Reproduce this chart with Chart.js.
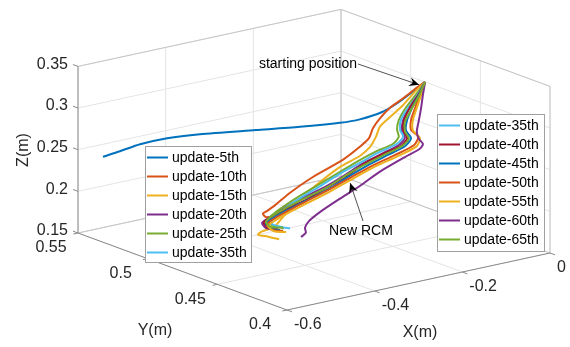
<!DOCTYPE html>
<html>
<head>
<meta charset="utf-8">
<script src="https://cdn.jsdelivr.net/npm/chart.js@4.4.0/dist/chart.umd.min.js"></script>
<style>
    html, body { margin: 0; padding: 0; background: #fff; }
    #wrap { width: 570px; height: 347px; }
</style>
</head>
<body>
<div id="wrap"><canvas id="trajChart" width="570" height="347"></canvas></div>
<script>
// axis ticks (metres)
let xTicks = [-0.6, -0.4, -0.2, 0];
let yTicks = [0.4, 0.45, 0.5, 0.55];
let zTicks = [0.15, 0.2, 0.25, 0.3, 0.35];

let labels = ["update-5th", "update-10th", "update-15th", "update-20th", "update-25th", "update-35th",
              "update-40th", "update-45th", "update-50th", "update-55th", "update-60th", "update-65th"];
let colors = ["#0072BD", "#D95319", "#EDB120", "#7E2F8E", "#77AC30", "#4DBEEE",
              "#A2142F", "#0072BD", "#D95319", "#EDB120", "#7E2F8E", "#77AC30"];

// trajectories, [X, Y, Z] in metres
let upd5 = [[-0.126,0.45,0.339],[-0.156,0.45,0.330],[-0.188,0.45,0.321],[-0.224,0.45,0.314],[-0.275,0.45,0.311],
            [-0.320,0.45,0.312],[-0.348,0.47,0.298],[-0.385,0.49,0.286],[-0.449,0.51,0.276],[-0.492,0.52,0.270],
            [-0.522,0.53,0.260],[-0.536,0.54,0.247],[-0.543,0.55,0.235]];
let upd10 = [[-0.126,0.45,0.339],[-0.149,0.45,0.333],[-0.176,0.45,0.325],[-0.206,0.45,0.317],[-0.229,0.45,0.307],
             [-0.245,0.45,0.297],[-0.254,0.45,0.286],[-0.275,0.45,0.278],[-0.313,0.45,0.267],[-0.382,0.45,0.254],
             [-0.434,0.45,0.241],[-0.468,0.45,0.230],[-0.487,0.45,0.225],[-0.496,0.45,0.223],[-0.489,0.45,0.218],
             [-0.468,0.45,0.217]];
let upd15 = [[-0.126,0.45,0.339],[-0.151,0.45,0.329],[-0.176,0.45,0.317],[-0.206,0.45,0.306],[-0.229,0.45,0.297],
             [-0.238,0.45,0.286],[-0.252,0.45,0.275],[-0.275,0.45,0.267],[-0.320,0.45,0.259],[-0.382,0.45,0.241],
             [-0.418,0.45,0.228],[-0.448,0.45,0.215],[-0.471,0.45,0.204],[-0.498,0.45,0.202],[-0.507,0.45,0.199],
             [-0.484,0.45,0.194],[-0.459,0.45,0.188]];
let upd20 = [[-0.126,0.45,0.339],[-0.145,0.45,0.325],[-0.163,0.45,0.312],[-0.176,0.45,0.299],[-0.179,0.45,0.287],
             [-0.172,0.45,0.277],[-0.186,0.45,0.270],[-0.224,0.45,0.264],[-0.270,0.45,0.257],[-0.309,0.45,0.248],
             [-0.354,0.45,0.239],[-0.411,0.45,0.231],[-0.455,0.45,0.223],[-0.484,0.45,0.216],[-0.498,0.45,0.212],
             [-0.489,0.45,0.205],[-0.466,0.45,0.201]];
let upd25 = [[-0.126,0.45,0.339],[-0.147,0.45,0.326],[-0.170,0.45,0.313],[-0.186,0.45,0.300],[-0.190,0.45,0.289],
             [-0.186,0.45,0.280],[-0.199,0.45,0.273],[-0.240,0.45,0.268],[-0.281,0.45,0.261],[-0.320,0.45,0.253],
             [-0.366,0.45,0.244],[-0.411,0.45,0.235],[-0.450,0.45,0.226],[-0.475,0.45,0.219],[-0.484,0.45,0.213],
             [-0.473,0.45,0.206],[-0.448,0.45,0.200]];
let upd35 = [[-0.126,0.45,0.339],[-0.145,0.45,0.324],[-0.165,0.45,0.312],[-0.181,0.45,0.300],[-0.183,0.45,0.288],
             [-0.176,0.45,0.279],[-0.190,0.45,0.272],[-0.234,0.45,0.266],[-0.279,0.45,0.258],[-0.320,0.45,0.251],
             [-0.366,0.45,0.241],[-0.411,0.45,0.232],[-0.448,0.45,0.223],[-0.473,0.45,0.215],[-0.475,0.45,0.208],
             [-0.457,0.45,0.203],[-0.434,0.45,0.198]];
let upd40 = [[-0.126,0.45,0.339],[-0.142,0.45,0.325],[-0.161,0.45,0.312],[-0.174,0.45,0.299],[-0.176,0.45,0.287],
             [-0.167,0.45,0.276],[-0.179,0.45,0.269],[-0.218,0.45,0.264],[-0.263,0.45,0.257],[-0.297,0.45,0.248],
             [-0.343,0.45,0.239],[-0.400,0.45,0.228],[-0.446,0.45,0.222],[-0.480,0.45,0.216],[-0.494,0.45,0.212],
             [-0.484,0.45,0.204],[-0.462,0.45,0.201]];
let upd45 = [[-0.126,0.45,0.339],[-0.140,0.45,0.325],[-0.156,0.45,0.311],[-0.167,0.45,0.298],[-0.170,0.45,0.286],
             [-0.158,0.45,0.275],[-0.172,0.45,0.267],[-0.211,0.45,0.261],[-0.256,0.45,0.254],[-0.297,0.45,0.246],
             [-0.343,0.45,0.236],[-0.400,0.45,0.227],[-0.446,0.45,0.220],[-0.478,0.45,0.214],[-0.489,0.45,0.210],
             [-0.480,0.45,0.203],[-0.457,0.45,0.199]];
let upd50 = [[-0.126,0.45,0.339],[-0.138,0.45,0.325],[-0.149,0.45,0.310],[-0.158,0.45,0.297],[-0.158,0.45,0.285],
             [-0.142,0.45,0.275],[-0.151,0.45,0.266],[-0.195,0.45,0.259],[-0.247,0.45,0.252],[-0.293,0.45,0.244],
             [-0.343,0.45,0.235],[-0.400,0.45,0.226],[-0.443,0.45,0.219],[-0.475,0.45,0.213],[-0.487,0.45,0.208],
             [-0.475,0.45,0.201],[-0.450,0.45,0.197]];
let upd55 = [[-0.126,0.45,0.339],[-0.135,0.45,0.324],[-0.145,0.45,0.310],[-0.154,0.45,0.296],[-0.154,0.45,0.284],
             [-0.138,0.45,0.273],[-0.145,0.45,0.264],[-0.188,0.45,0.257],[-0.243,0.45,0.250],[-0.288,0.45,0.242],
             [-0.338,0.45,0.233],[-0.395,0.45,0.224],[-0.439,0.45,0.217],[-0.471,0.45,0.211],[-0.484,0.45,0.207],
             [-0.471,0.45,0.199],[-0.443,0.45,0.195]];
let upd60 = [[-0.126,0.45,0.339],[-0.131,0.45,0.324],[-0.135,0.45,0.309],[-0.140,0.45,0.295],[-0.145,0.45,0.281],
             [-0.140,0.45,0.272],[-0.131,0.45,0.265],[-0.138,0.45,0.260],[-0.172,0.45,0.254],[-0.229,0.45,0.243],
             [-0.275,0.45,0.231],[-0.320,0.45,0.221],[-0.366,0.45,0.210],[-0.391,0.45,0.202],[-0.400,0.45,0.195],
             [-0.398,0.45,0.189],[-0.409,0.45,0.185]];
let upd65 = [[-0.126,0.45,0.339],[-0.140,0.45,0.324],[-0.158,0.45,0.309],[-0.172,0.45,0.296],[-0.172,0.45,0.285],
             [-0.163,0.45,0.275],[-0.179,0.45,0.268],[-0.220,0.45,0.262],[-0.266,0.45,0.255],[-0.304,0.45,0.248],
             [-0.350,0.45,0.238],[-0.405,0.45,0.230],[-0.448,0.45,0.223],[-0.478,0.45,0.217],[-0.489,0.45,0.212],
             [-0.478,0.45,0.205],[-0.450,0.45,0.201]];

let runs = [upd5, upd10, upd15, upd20, upd25, upd35, upd40, upd45, upd50, upd55, upd60, upd65];
let newRcm = [-0.297, 0.45, 0.237];

// view of the 3D box: where its corners land in the 570x347 view space
let xLim = [xTicks[0], xTicks[xTicks.length - 1]];
let yLim = [yTicks[0], yTicks[yTicks.length - 1]];
let zLim = [zTicks[0], zTicks[zTicks.length - 1]];
let origin = [287, 310];   // (xmin, ymin, zmin)
let xEdge = [263, -57];    // xmin -> xmax
let yEdge = [-209, -77];   // ymin -> ymax
let zEdge = 166.6;         // zmin -> zmax, upwards

function project(x, y, z) {
    let a = (x - xLim[0]) / (xLim[1] - xLim[0]);
    let b = (y - yLim[0]) / (yLim[1] - yLim[0]);
    let c = (z - zLim[0]) / (zLim[1] - zLim[0]);
    return {
        x: origin[0] + a * xEdge[0] + b * yEdge[0],
        y: origin[1] + a * xEdge[1] + b * yEdge[1] - c * zEdge
    };
}

const FONT = "'Liberation Sans', Arial, sans-serif";

function toPx(chart, x, y, z) {
    let p = project(x, y, z);
    return [chart.scales.x.getPixelForValue(p.x), chart.scales.y.getPixelForValue(p.y)];
}

function seg(ctx, chart, a, b) {
    let p = toPx(chart, a[0], a[1], a[2]);
    let q = toPx(chart, b[0], b[1], b[2]);
    ctx.moveTo(p[0], p[1]);
    ctx.lineTo(q[0], q[1]);
}

function arrow(ctx, from, to) {
    ctx.beginPath();
    ctx.moveTo(from[0], from[1]);
    ctx.lineTo(to[0], to[1]);
    ctx.stroke();
    let ang = Math.atan2(to[1] - from[1], to[0] - from[0]);
    let L = 10, W = 4.5;
    let c = Math.cos(ang), s = Math.sin(ang);
    ctx.beginPath();
    ctx.moveTo(to[0], to[1]);
    ctx.lineTo(to[0] - L * c + W * s, to[1] - L * s - W * c);
    ctx.lineTo(to[0] - 0.65 * L * c, to[1] - 0.65 * L * s);
    ctx.lineTo(to[0] - L * c - W * s, to[1] - L * s + W * c);
    ctx.closePath();
    ctx.fill();
}

// MATLAB-like 3D box, grid, axes and tick labels
const box3d = {
    id: "box3d",
    beforeDatasetsDraw(chart) {
        let ctx = chart.ctx;
        let [x0, x1] = xLim, [y0, y1] = yLim, [z0, z1] = zLim;
        ctx.save();
        ctx.lineWidth = 1;

        // grid on the three back planes
        ctx.strokeStyle = "#e4e4e4";
        ctx.beginPath();
        xTicks.forEach(x => { seg(ctx, chart, [x, y0, z0], [x, y1, z0]); seg(ctx, chart, [x, y1, z0], [x, y1, z1]); });
        yTicks.forEach(y => { seg(ctx, chart, [x0, y, z0], [x1, y, z0]); seg(ctx, chart, [x1, y, z0], [x1, y, z1]); });
        zTicks.forEach(z => { seg(ctx, chart, [x0, y1, z], [x1, y1, z]); seg(ctx, chart, [x1, y0, z], [x1, y1, z]); });
        ctx.stroke();

        // back box edges
        ctx.strokeStyle = "#c6c6c6";
        ctx.beginPath();
        seg(ctx, chart, [x0, y1, z1], [x1, y1, z1]);
        seg(ctx, chart, [x1, y1, z1], [x1, y0, z1]);
        seg(ctx, chart, [x1, y1, z0], [x1, y1, z1]);
        seg(ctx, chart, [x1, y0, z0], [x1, y0, z1]);
        seg(ctx, chart, [x0, y1, z0], [x1, y1, z0]);
        seg(ctx, chart, [x1, y1, z0], [x1, y0, z0]);
        ctx.stroke();

        // axis lines and ticks
        ctx.strokeStyle = "#8a8a8a";
        ctx.beginPath();
        seg(ctx, chart, [x0, y1, z0], [x0, y1, z1]);
        seg(ctx, chart, [x0, y0, z0], [x0, y1, z0]);
        seg(ctx, chart, [x0, y0, z0], [x1, y0, z0]);
        let dy = (y1 - y0) * 0.024, dx = (x1 - x0) * 0.018;
        zTicks.forEach(z => seg(ctx, chart, [x0, y1, z], [x0, y1 + dy, z]));
        xTicks.forEach(x => seg(ctx, chart, [x, y0, z0], [x, y0 - dy, z0]));
        yTicks.forEach(y => seg(ctx, chart, [x0, y, z0], [x0 - dx, y, z0]));
        ctx.stroke();

        // tick labels
        ctx.fillStyle = "#262626";
        ctx.font = "16px " + FONT;
        ctx.textBaseline = "middle";
        ctx.textAlign = "right";
        zTicks.forEach(z => {
            let p = toPx(chart, x0, y1, z);
            ctx.fillText(String(z), p[0] - 10, p[1] - 2);
        });
        ctx.textAlign = "center";
        yTicks.forEach(y => {
            let p = toPx(chart, x0, y, z0);
            ctx.fillText(String(y), p[0] - 27, p[1] + 15);
        });
        ctx.textAlign = "left";
        xTicks.forEach(x => {
            let p = toPx(chart, x, y0, z0);
            ctx.fillText(String(x), p[0] + 7, p[1] + 15);
        });

        // axis titles
        ctx.textAlign = "center";
        ctx.fillText("Y(m)", 155, 331);
        ctx.fillText("X(m)", 420, 333);
        ctx.save();
        ctx.translate(24, 150);
        ctx.rotate(-Math.PI / 2);
        ctx.fillText("Z(m)", 0, 0);
        ctx.restore();
        ctx.restore();
    },
    afterDatasetsDraw(chart) {
        let ctx = chart.ctx;
        ctx.save();

        // annotations
        ctx.fillStyle = "#000";
        ctx.strokeStyle = "#262626";
        ctx.lineWidth = 0.8;
        ctx.font = "14px " + FONT;
        ctx.textBaseline = "middle";
        ctx.textAlign = "right";
        ctx.fillText("starting position", 357, 64);
        let s = toPx(chart, upd5[0][0], upd5[0][1], upd5[0][2]);
        arrow(ctx, [358, 64], [s[0] - 6, s[1] + 3]);
        ctx.textAlign = "center";
        ctx.fillText("New RCM", 361, 231);
        let r = toPx(chart, newRcm[0], newRcm[1], newRcm[2]);
        arrow(ctx, [363, 221], r);

        // two legend boxes, like the original figure
        drawLegend(ctx, chart, [0, 1, 2, 3, 4, 5], 145, 146, 106, 116);
        drawLegend(ctx, chart, [5, 6, 7, 8, 9, 10, 11], 437, 114, 107, 137);
        ctx.restore();
    }
};

function drawLegend(ctx, chart, idx, bx, by, bw, bh) {
    ctx.fillStyle = "#fff";
    ctx.fillRect(bx, by, bw, bh);
    ctx.strokeStyle = "#a0a0a0";
    ctx.lineWidth = 1;
    ctx.strokeRect(bx + 0.5, by + 0.5, bw, bh);
    ctx.font = "14px " + FONT;
    ctx.textAlign = "left";
    ctx.textBaseline = "middle";
    idx.forEach((k, i) => {
        let y = by + 11.5 + i * 19;
        ctx.strokeStyle = colors[k];
        ctx.lineWidth = 2;
        ctx.beginPath();
        ctx.moveTo(bx + 2, y);
        ctx.lineTo(bx + 23, y);
        ctx.stroke();
        ctx.fillStyle = "#000";
        ctx.fillText(labels[k], bx + 27, y + 0.5);
    });
}

let ctx = document.getElementById("trajChart").getContext("2d");

window.trajChart = new Chart(ctx, {
    type: "scatter",
    data: {
        datasets: runs.map((run, i) => ({
            label: labels[i],
            data: run.map(p => project(p[0], p[1], p[2])),
            showLine: true,
            borderColor: colors[i],
            backgroundColor: colors[i],
            borderWidth: 2,
            pointRadius: 0,
            tension: 0.25,
            order: -i
        }))
    },
    options: {
        responsive: false,
        animation: false,
        layout: { padding: 0 },
        plugins: {
            legend: { display: false },
            tooltip: { enabled: false }
        },
        scales: {
            x: { type: "linear", min: 0, max: 570, display: false },
            y: { type: "linear", min: 0, max: 347, reverse: true, display: false }
        }
    },
    plugins: [box3d]
});
</script>
</body>
</html>
